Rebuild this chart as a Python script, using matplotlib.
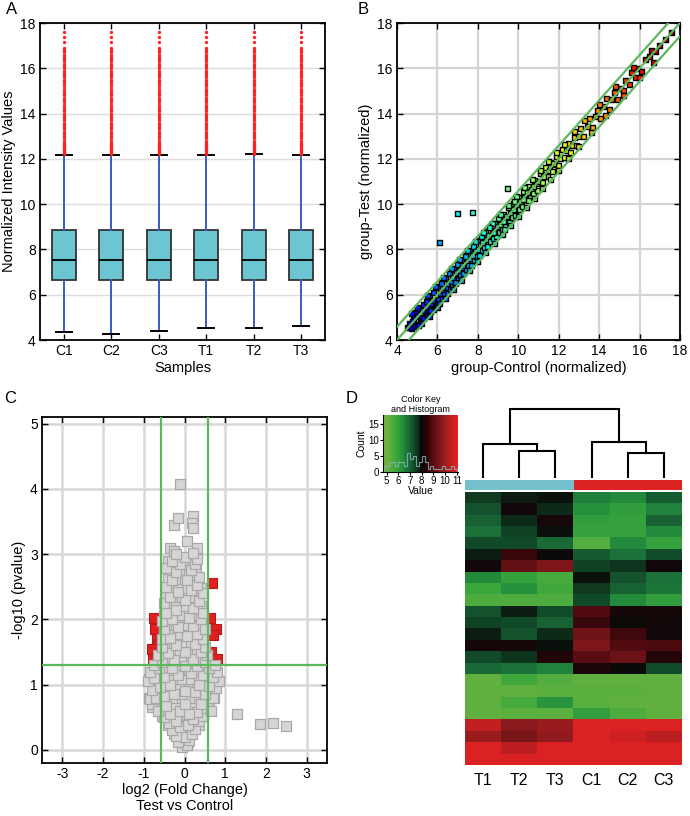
import numpy as np
import matplotlib
matplotlib.use("Agg")
import matplotlib.pyplot as plt
from matplotlib.colors import LinearSegmentedColormap

plt.rcParams['font.family'] = ['Liberation Sans', 'DejaVu Sans']
plt.rcParams['axes.unicode_minus'] = False

# ---------------- data ----------------
# A: box plot of normalized intensities
samples = ['C1', 'C2', 'C3', 'T1', 'T2', 'T3']
box_q1 = [6.65, 6.65, 6.65, 6.65, 6.65, 6.65]
box_med = [7.55, 7.55, 7.55, 7.55, 7.55, 7.55]
box_q3 = [8.85, 8.85, 8.85, 8.85, 8.88, 8.85]
whisk_lo = [4.35, 4.28, 4.38, 4.55, 4.55, 4.6]
whisk_hi = [12.15, 12.15, 12.17, 12.18, 12.22, 12.18]
outliers = [12.2, 12.25, 12.3, 12.35, 12.4, 12.45, 12.5, 12.55, 12.6, 12.65, 12.7, 12.8,
            12.9, 13.0, 13.1, 13.2, 13.3, 13.4, 13.5, 13.6, 13.7, 13.8, 13.9, 14.0, 14.1,
            14.2, 14.3, 14.4, 14.5, 14.6, 14.7, 14.8, 14.9, 15.0, 15.1, 15.2, 15.3, 15.4,
            15.5, 15.6, 15.7, 15.8, 15.9, 16.0, 16.1, 16.2, 16.3, 16.4, 16.5, 16.6, 16.7,
            16.8, 16.9, 17.15, 17.4, 17.6]

# B: scatter, control vs test
ctrl_expr = [4.5, 4.6, 4.7, 4.8, 4.85, 4.9, 5.0, 5.0, 5.1, 5.15, 5.2, 5.3, 5.3, 5.4, 5.45,
             5.5, 5.55, 5.6, 5.65, 5.7, 5.8, 5.8, 5.9, 5.95, 6.0, 6.05, 6.1, 6.15, 6.2, 6.25,
             6.3, 6.35, 6.4, 6.45, 6.5, 6.55, 6.6, 6.65, 6.7, 6.75, 6.8, 6.85, 6.9, 6.95, 7.0,
             7.05, 7.1, 7.15, 7.2, 7.25, 7.3, 7.35, 7.4, 7.45, 7.5, 7.55, 7.6, 7.65, 7.7, 7.75,
             7.8, 7.85, 7.9, 7.95, 8.0, 8.05, 8.1, 8.15, 8.2, 8.25, 8.3, 8.35, 8.4, 8.45, 8.5,
             8.55, 8.6, 8.65, 8.7, 8.75, 8.8, 8.85, 8.9, 8.95, 9.0, 9.05, 9.1, 9.2, 9.25, 9.3,
             9.35, 9.4, 9.5, 9.55, 9.6, 9.7, 9.75, 9.8, 9.85, 9.9, 10.0, 10.05, 10.1, 10.2,
             10.25, 10.3, 10.4, 10.45, 10.5, 10.6, 10.65, 10.75, 10.8, 10.9, 10.95, 11.05,
             11.1, 11.2, 11.3, 11.35, 11.45, 11.55, 11.6, 11.7, 11.8, 11.9, 12.0, 12.1, 12.2,
             12.3, 12.4, 12.5, 12.6, 12.7, 12.8, 12.9, 13.0, 13.1, 13.25, 13.4, 13.5, 13.65,
             13.8, 13.9, 14.05, 14.2, 14.35, 14.5, 14.6, 14.75, 14.9, 15.05, 15.2, 15.3, 15.5,
             15.6, 15.8, 15.9, 16.1, 16.3, 16.5, 16.7, 16.8, 17.0, 17.3, 17.6,
             4.7, 5.0, 5.2, 5.5, 5.6, 5.9, 6.0, 6.3, 6.4, 6.7, 6.8, 7.1, 7.2, 7.5, 7.6, 7.9,
             8.0, 8.3, 8.4, 8.7, 8.8, 9.1, 9.2, 9.5, 9.6, 9.9, 10.0, 10.3, 10.4, 10.7, 10.8,
             11.1, 11.2, 11.5, 11.6, 11.9, 12.0, 12.3, 12.5, 12.8, 13.0, 13.3, 13.6, 14.0,
             14.3, 14.8, 15.2, 15.7, 16.0, 16.6,
             4.75, 5.25, 5.75, 6.25, 6.75, 7.25, 7.75, 8.25, 8.75, 9.25, 9.75, 10.25, 10.75,
             11.25, 11.75, 5.05, 5.65, 6.2, 6.9, 7.4, 8.1, 8.6, 9.3, 9.8, 10.5,
             6.1, 7.0, 7.75, 9.45]
test_expr = [4.55, 4.75, 4.5, 4.95, 4.6, 5.2, 4.7, 5.05, 5.35, 4.85, 5.0, 5.55, 4.95, 5.2, 5.7,
             5.1, 5.45, 5.9, 5.25, 5.6, 5.35, 6.1, 5.7, 5.5, 6.3, 5.8, 5.6, 6.05, 6.55, 5.85,
             6.2, 6.0, 6.7, 6.3, 6.05, 6.5, 6.95, 6.25, 6.6, 6.35, 7.1, 6.8, 6.5, 7.0, 7.35,
             6.7, 7.05, 6.85, 7.5, 7.2, 6.95, 7.4, 7.75, 7.1, 7.5, 7.3, 7.95, 7.6, 7.3, 7.8,
             8.15, 7.5, 7.9, 7.7, 8.4, 8.0, 7.75, 8.2, 8.55, 7.95, 8.3, 8.1, 8.8, 8.45, 8.15,
             8.6, 8.95, 8.35, 8.7, 8.5, 9.15, 8.85, 8.55, 9.0, 9.35, 8.75, 9.1, 8.9, 9.55, 9.3,
             9.0, 9.45, 9.85, 9.2, 9.6, 9.4, 10.05, 9.8, 9.5, 10.0, 10.3, 9.75, 10.1, 9.9,
             10.55, 10.3, 10.05, 10.5, 10.8, 10.3, 10.65, 10.45, 11.05, 10.9, 10.6, 11.0,
             11.35, 10.95, 11.3, 11.6, 11.2, 11.5, 11.85, 11.45, 11.75, 12.1, 11.7, 12.0, 12.4,
             12.05, 12.35, 12.7, 12.3, 12.6, 12.95, 12.6, 13.0, 13.35, 13.0, 13.45, 13.8, 13.4,
             13.85, 14.15, 13.8, 14.3, 14.65, 14.2, 14.6, 14.95, 14.6, 15.1, 15.0, 15.45, 15.3,
             15.8, 15.6, 16.0, 15.85, 16.4, 16.5, 16.25, 16.75, 17.0, 17.25, 17.6,
             5.15, 5.45, 4.75, 5.95, 5.05, 6.35, 5.45, 6.75, 5.85, 7.15, 6.25, 7.55, 6.65, 7.95,
             7.05, 8.35, 7.45, 8.75, 7.85, 9.15, 8.25, 9.55, 8.65, 9.95, 9.05, 10.35, 9.45,
             10.75, 9.85, 11.1, 10.25, 11.5, 10.7, 11.9, 11.1, 12.3, 11.5, 12.65, 12.0, 13.2,
             12.55, 13.7, 13.15, 14.4, 13.9, 15.2, 14.8, 16.05, 15.6, 16.8,
             4.8, 5.3, 5.75, 6.3, 6.75, 7.3, 7.75, 8.3, 8.75, 9.25, 9.75, 10.2, 10.8,
             11.2, 11.8, 4.65, 5.3, 6.5, 6.55, 7.7, 7.75, 8.95, 8.9, 10.1, 10.15,
             8.3, 9.6, 9.65, 10.7]
fc_offsets = [-0.585, 0.0, 0.585]

# C: volcano plot (edge of the cloud, outliers, then the dense core)
volc_fc = [-0.05, 0.05, -0.15, 0.12, 0.0, -0.2, 0.18,
           -0.3, 0.25, -0.1, 0.08, -0.38, 0.35, -0.22, 0.2,
           -0.5, 0.45, -0.35, 0.3, -0.1, 0.1, -0.6, 0.55, -0.8, -0.65, 0.65, -0.45, 0.4, 0.0,
           -0.85, -0.7, 0.7, -0.5, 0.5, -0.25, 0.25, 0.0, -0.8, 0.78, -0.6, 0.6, -0.35, 0.35,
           -0.9, 0.85,
           -0.75, 0.7, -0.5, 0.45, -0.15, 0.15, -0.85, 0.8, -0.62, 0.6, -0.3, 0.3, 0.0, -0.75,
           0.75,
           -0.55, 0.5, -0.25, 0.2, -0.65, 0.55, -0.4, 0.4, 0.0, -0.55, 0.5, -0.2, 0.25,
           -0.55, 0.45, -0.35, 0.05, 0.3, -0.5, 0.5, -0.15, 0.2, -0.55, 0.4, -0.3, 0.1,
           -0.45, 0.45, -0.2, 0.2, -0.5, 0.35, 0.0, -0.35, 0.45, -0.15, 0.15, -0.45, 0.3,
           -0.3, 0.05, 0.35, -0.2, 0.15, -0.45, 0.25, -0.1, -0.3, 0.3, 0.0,
           -0.35, -0.25, 0.3, 0.05, -0.2, 0.2, -0.25, -0.15, 0.2, 0.18, 0.22, -0.12,
           1.3, 1.85, 2.17, 2.5]
volc_p = [0.05, 0.08, 0.12, 0.15, 0.2, 0.22, 0.25,
          0.3, 0.32, 0.35, 0.38, 0.42, 0.45, 0.45, 0.48,
          0.5, 0.52, 0.55, 0.58, 0.6, 0.55, 0.62, 0.65, 0.7, 0.6, 0.6, 0.68, 0.7, 0.7,
          0.78, 0.8, 0.8, 0.82, 0.85, 0.85, 0.88, 0.9, 0.92, 0.95, 0.97, 0.98, 1.0, 1.0,
          1.05, 1.05,
          1.1, 1.12, 1.12, 1.15, 1.15, 1.18, 1.2, 1.2, 1.25, 1.25, 1.25, 1.28, 1.28, 1.3,
          1.3,
          1.35, 1.35, 1.38, 1.4, 1.45, 1.45, 1.48, 1.5, 1.5, 1.58, 1.58, 1.6, 1.62,
          1.7, 1.7, 1.72, 1.75, 1.78, 1.85, 1.85, 1.88, 1.9, 1.98, 2.0, 2.0, 2.02,
          2.1, 2.1, 2.15, 2.18, 2.25, 2.28, 2.3, 2.35, 2.4, 2.42, 2.45, 2.5, 2.52,
          2.6, 2.6, 2.65, 2.72, 2.75, 2.78, 2.85, 2.85, 2.9, 2.92, 2.95,
          3.1, 3.05, 3.1, 3.2, 3.0, 3.02, 3.45, 3.55, 3.58, 3.48, 3.4, 4.08,
          0.55, 0.4, 0.42, 0.36]
core_fc = [-0.1, 0.08,
           -0.25, -0.05, 0.15,
           -0.4, -0.2, 0.0, 0.2, 0.35,
           -0.55, -0.35, -0.15, 0.05, 0.25, 0.45,
           -0.8, -0.6, -0.4, -0.2, 0.0, 0.2, 0.4, 0.6,
           -0.88, -0.65, -0.45, -0.25, -0.05, 0.15, 0.35, 0.55, 0.72,
           -0.7, -0.5, -0.3, -0.1, 0.1, 0.3, 0.5, 0.7,
           -0.88, -0.65, -0.45, -0.25, -0.05, 0.15, 0.35, 0.55, 0.8,
           -0.7, -0.5, -0.3, -0.1, 0.1, 0.3, 0.5, 0.7,
           -0.65, -0.45, -0.25, -0.05, 0.15, 0.35, 0.55,
           -0.5, -0.3, -0.1, 0.1, 0.3, 0.5,
           -0.45, -0.25, -0.05, 0.15, 0.35,
           -0.5, -0.3, -0.1, 0.1, 0.3, 0.45,
           -0.4, -0.2, 0.0, 0.2, 0.35,
           -0.5, -0.3, -0.1, 0.1, 0.3,
           -0.4, -0.2, 0.0, 0.2, 0.4,
           -0.45, -0.25, -0.05, 0.15, 0.35,
           -0.35, -0.15, 0.05, 0.25, 0.4,
           -0.4, -0.2, 0.0, 0.2,
           -0.3, -0.1, 0.1, 0.28,
           -0.4, -0.2, 0.0, 0.2]
core_p = [0.12, 0.12,
          0.25, 0.25, 0.25,
          0.38, 0.38, 0.38, 0.38, 0.38,
          0.52, 0.52, 0.52, 0.52, 0.52, 0.52,
          0.66, 0.66, 0.66, 0.66, 0.66, 0.66, 0.66, 0.66,
          0.8, 0.8, 0.8, 0.8, 0.8, 0.8, 0.8, 0.8, 0.8,
          0.94, 0.94, 0.94, 0.94, 0.94, 0.94, 0.94, 0.94,
          1.08, 1.08, 1.08, 1.08, 1.08, 1.08, 1.08, 1.08, 1.08,
          1.22, 1.22, 1.22, 1.22, 1.22, 1.22, 1.22, 1.22,
          1.36, 1.36, 1.36, 1.36, 1.36, 1.36, 1.36,
          1.5, 1.5, 1.5, 1.5, 1.5, 1.5,
          1.64, 1.64, 1.64, 1.64, 1.64,
          1.78, 1.78, 1.78, 1.78, 1.78, 1.78,
          1.92, 1.92, 1.92, 1.92, 1.92,
          2.06, 2.06, 2.06, 2.06, 2.06,
          2.2, 2.2, 2.2, 2.2, 2.2,
          2.34, 2.34, 2.34, 2.34, 2.34,
          2.48, 2.48, 2.48, 2.48, 2.48,
          2.62, 2.62, 2.62, 2.62,
          2.76, 2.76, 2.76, 2.76,
          2.9, 2.9, 2.9, 2.9]
sig_fc = [0.68, -0.75, 0.62, 0.78, -0.72, 0.7, -0.68, -0.62, -0.8, 0.65, -0.78, -0.68,
          0.8, 0.75, -0.6]
sig_p = [2.55, 2.02, 2.02, 1.85, 1.85, 1.76, 1.7, 1.62, 1.55, 1.5, 1.4, 1.42, 1.4,
         1.32, 1.45]
fc_cut = 0.585
p_cut = 1.3

# D: heatmap
heat_cols = ['T1', 'T2', 'T3', 'C1', 'C2', 'C3']
heat_vals = [
    [7.5, 7.8, 7.9, 6.6, 6.4, 7.1],
    [7.2, 8.1, 7.7, 6.3, 6.0, 6.5],
    [7.0, 7.7, 8.2, 6.0, 5.9, 7.0],
    [6.8, 7.4, 7.9, 5.9, 5.9, 6.4],
    [7.3, 7.3, 6.9, 5.4, 6.4, 5.9],
    [7.8, 8.6, 8.0, 7.1, 6.8, 7.3],
    [8.1, 9.2, 9.6, 7.4, 7.6, 8.1],
    [6.4, 5.9, 5.6, 7.9, 7.2, 6.8],
    [5.8, 6.3, 5.7, 7.5, 7.0, 6.7],
    [5.5, 5.5, 5.5, 7.3, 6.4, 6.0],
    [7.2, 7.8, 7.3, 8.9, 8.2, 8.2],
    [7.4, 7.3, 7.0, 8.6, 8.0, 8.1],
    [7.8, 7.2, 7.7, 9.4, 8.7, 8.1],
    [8.2, 8.2, 7.9, 9.6, 8.9, 8.8],
    [7.3, 7.6, 8.4, 9.0, 9.3, 8.4],
    [6.9, 6.8, 6.5, 8.3, 8.0, 7.3],
    [5.2, 5.7, 5.4, 5.2, 5.2, 5.2],
    [5.2, 5.2, 5.3, 5.3, 5.3, 5.2],
    [5.2, 5.6, 6.2, 5.3, 5.2, 5.2],
    [5.2, 5.3, 5.3, 6.0, 5.5, 5.2],
    [10.6, 9.8, 10.0, 11.0, 11.0, 11.0],
    [10.0, 9.5, 9.9, 11.0, 10.8, 10.5],
    [11.0, 10.5, 11.0, 11.0, 11.0, 11.0],
    [11.0, 11.0, 11.0, 11.0, 11.0, 11.0],
]
group_colors = ['#74c0cc', '#74c0cc', '#74c0cc', '#dd2222', '#dd2222', '#dd2222']
# dendrogram merges
dend_left = [1.5, 0.5, 4.5, 3.5, 1.25]
dend_right = [2.5, 2.0, 5.5, 5.0, 4.25]
dend_lh = [0.0, 0.0, 0.0, 0.0, 0.50]
dend_rh = [0.0, 0.39, 0.0, 0.36, 0.52]
dend_h = [0.39, 0.50, 0.36, 0.52, 1.0]
# colour key histogram
hist_edges = [4.75, 5.0, 5.25, 5.5, 5.75, 6.0, 6.25, 6.5, 6.75, 7.0, 7.25, 7.5, 7.75,
              8.0, 8.25, 8.5, 8.75, 9.0, 9.25, 9.5, 9.75, 10.0, 10.25, 10.5, 10.75, 11.0]
hist_counts = [2, 2, 3, 3, 2, 3, 3, 2, 6, 4, 5, 2, 3, 5, 3, 1, 2, 1, 1, 1, 2, 1, 1, 2, 1]

# ---------------- figure ----------------
fig = plt.figure(figsize=(6.9, 8.16), dpi=100)


def px(l, t, r, b):
    return [l / 690, 1 - b / 816, (r - l) / 690, (b - t) / 816]


def frame(ax):
    for s in ax.spines.values():
        s.set_linewidth(1.3)
        s.set_color('black')
    ax.tick_params(direction='in', top=True, right=True, labelsize=10, length=4, width=1,
                   pad=3)
    ax.set_axisbelow(True)


# ----- A -----
axA = fig.add_axes(px(40, 23, 325, 340))
stats = []
for i, s in enumerate(samples):
    stats.append(dict(label=s, q1=box_q1[i], med=box_med[i], q3=box_q3[i],
                      whislo=whisk_lo[i], whishi=whisk_hi[i], fliers=np.array(outliers)))
axA.bxp(stats, positions=range(1, 7), widths=0.5, patch_artist=True, capwidths=0.33,
        boxprops=dict(facecolor='#6cc6d1', edgecolor='#333333', lw=1.3),
        medianprops=dict(color='black', lw=1.3),
        whiskerprops=dict(color='#3a5cc0', lw=1.4),
        capprops=dict(color='black', lw=1.4),
        flierprops=dict(marker='o', markersize=2.4, markerfacecolor='#ff2020',
                        markeredgecolor='none'))
axA.set_xlim(0.5, 6.5)
axA.set_ylim(4, 18)
axA.set_yticks(range(4, 19, 2))
axA.grid(axis='y', color='#dddddd', lw=1)
frame(axA)
axA.set_ylabel('Normalized Intensity Values', fontsize=10.5, labelpad=3)
axA.set_xlabel('Samples', fontsize=10.5, labelpad=2)
fig.text(12 / 690, 1 - 9 / 816, 'A', fontsize=12, va='center', ha='center')

# ----- B -----
axB = fig.add_axes(px(397, 23, 680, 340))
ctrl = np.array(ctrl_expr)
test = np.array(test_expr)
axB.scatter(ctrl, test, marker='s', s=13, c=(ctrl + test) / 2, cmap='jet', vmin=3, vmax=17.5,
            edgecolors='black', linewidths=1.0, zorder=3)
lx = np.array([4, 18])
for off in fc_offsets:
    axB.plot(lx, lx + off, color='#5cb85c', lw=1.6, zorder=4)
axB.set_xlim(4, 18)
axB.set_ylim(4, 18)
axB.set_xticks(range(4, 19, 2))
axB.set_yticks(range(4, 19, 2))
axB.grid(color='#d4d4d4', lw=1.6)
frame(axB)
axB.set_ylabel('group-Test (normalized)', fontsize=10.5, labelpad=3)
axB.set_xlabel('group-Control (normalized)', fontsize=10.5, labelpad=2)
fig.text(363 / 690, 1 - 9 / 816, 'B', fontsize=12, va='center', ha='center')

# ----- C -----
axC = fig.add_axes(px(42, 417, 327, 763))
axC.scatter(sig_fc, sig_p, marker='s', s=48, facecolor='#e02020', edgecolor='#b81818',
            linewidths=0.8, zorder=3)
axC.scatter(core_fc + volc_fc, core_p + volc_p, marker='s', s=48, facecolor='#d5d5d5',
            edgecolor='#a8a8a8', linewidths=0.9, zorder=3)
axC.axvline(-fc_cut, color='#5cb85c', lw=1.6, zorder=4)
axC.axvline(fc_cut, color='#5cb85c', lw=1.6, zorder=4)
axC.axhline(p_cut, color='#5cb85c', lw=1.6, zorder=4)
axC.set_xlim(-3.5, 3.5)
axC.set_ylim(-0.2, 5.1)
axC.set_xticks(range(-3, 4))
axC.set_yticks(range(0, 6))
axC.grid(color='#d8d8d8', lw=1.8)
frame(axC)
axC.set_ylabel('-log10 (pvalue)', fontsize=10.5, labelpad=3)
axC.set_xlabel('log2 (Fold Change)\nTest vs Control', fontsize=10.5, labelpad=1,
               linespacing=1.2)
fig.text(10 / 690, 1 - 398 / 816, 'C', fontsize=12, va='center', ha='center')

# ----- D -----
cmap = LinearSegmentedColormap.from_list('gr', [
    (0.00, '#74b43a'), (0.09, '#5cb040'), (0.17, '#3aa63c'), (0.25, '#26913e'),
    (0.33, '#1b7038'), (0.40, '#124f2c'), (0.47, '#0e2a18'), (0.51, '#0a0a0a'),
    (0.58, '#220508'), (0.64, '#4a0a0e'), (0.72, '#6a1216'), (0.80, '#8a1a1e'),
    (0.89, '#b41e20'), (1.00, '#e02222')])
vmin, vmax = 4.7, 11.1

axH = fig.add_axes(px(465, 492, 682, 765))
axH.imshow(np.array(heat_vals), cmap=cmap, vmin=vmin, vmax=vmax, aspect='auto',
           extent=(0, 6, 24, 0), interpolation='nearest')
axH.set_xticks(np.arange(6) + 0.5)
axH.set_xticklabels(heat_cols, fontsize=11.5)
axH.set_yticks([])
axH.tick_params(length=0, pad=6)
for s in axH.spines.values():
    s.set_visible(False)

axS = fig.add_axes(px(465, 480, 682, 490))
for i, col in enumerate(group_colors):
    axS.axvspan(i, i + 1, color=col, lw=0)
axS.set_xlim(0, 6)
axS.axis('off')

axD = fig.add_axes(px(465, 405, 682, 478))
for i in range(len(dend_h)):
    axD.plot([dend_left[i], dend_left[i], dend_right[i], dend_right[i]],
             [dend_lh[i], dend_h[i], dend_h[i], dend_rh[i]], color='black', lw=1.5,
             solid_joinstyle='miter')
axD.set_xlim(0, 6)
axD.set_ylim(0, 1.06)
axD.axis('off')

axK = fig.add_axes(px(383, 415, 458, 472))
grad = np.linspace(vmin, vmax, 40).reshape(1, -1)
axK.imshow(grad, cmap=cmap, vmin=vmin, vmax=vmax, aspect='auto',
           extent=(vmin, vmax, 0, 17.8), interpolation='nearest')
axK.stairs(hist_counts, hist_edges, color='#8fb8bc', lw=0.8, alpha=0.8)
axK.set_xlim(vmin, vmax)
axK.set_ylim(0, 17.8)
axK.set_xticks(range(5, 12))
axK.set_yticks([0, 5, 10, 15])
axK.tick_params(labelsize=7, length=2, pad=1)
for s in ['top', 'right']:
    axK.spines[s].set_visible(False)
axK.set_xlabel('Value', fontsize=7.5, labelpad=0)
axK.set_ylabel('Count', fontsize=7.5, labelpad=1)
axK.set_title('Color Key\nand Histogram', fontsize=6.5, pad=2)
fig.text(352 / 690, 1 - 398 / 816, 'D', fontsize=12, va='center', ha='center')

fig.savefig('out.png', dpi=100)
